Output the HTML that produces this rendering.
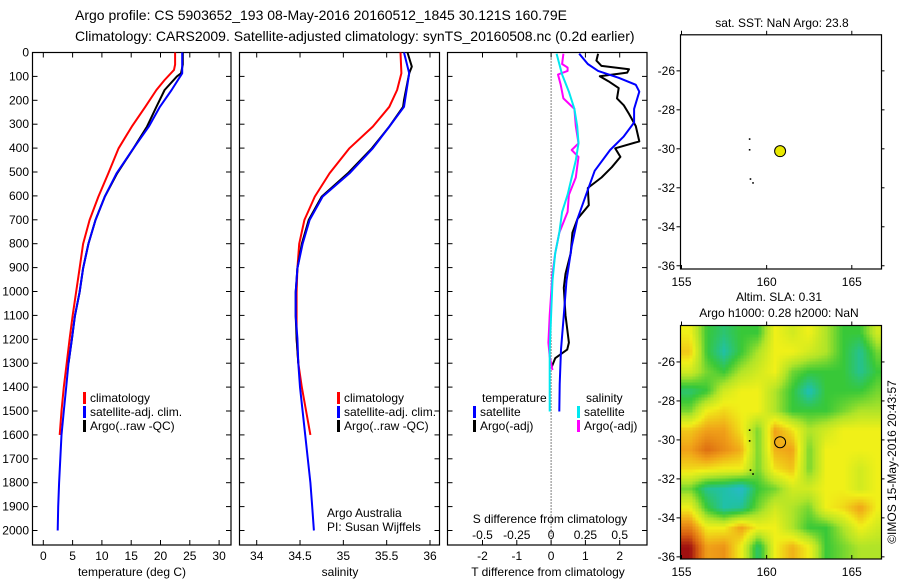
<!DOCTYPE html>
<html><head><meta charset="utf-8">
<style>
html,body{margin:0;padding:0;background:#fff;}
body{width:900px;height:580px;overflow:hidden;font-family:"Liberation Sans",sans-serif;}
svg text{font-family:"Liberation Sans",sans-serif;fill:#000;}
</style></head>
<body>
<svg id="chart" xmlns="http://www.w3.org/2000/svg" width="900" height="580" viewBox="0 0 900 580">
<text x="75" y="20" font-size="14">Argo profile: CS 5903652_193 08-May-2016 20160512_1845 30.121S 160.79E</text>
<text x="75" y="41" font-size="14">Climatology: CARS2009. Satellite-adjusted climatology: synTS_20160508.nc (0.2d earlier)</text>
<g id="g"></g>
</svg>
<script>
// ---- data ----
const depthTicks=[0,100,200,300,400,500,600,700,800,900,1000,1100,1200,1300,1400,1500,1600,1700,1800,1900,2000];
const tempTicks=[0,5,10,15,20,25,30];
const salTicks=[34,34.5,35,35.5,36];
const salTickLabels=["34","34.5","35","35.5","36"];
const tdTicks=[-2,-1,0,1,2];
const sdTicks=[-0.5,-0.25,0,0.25,0.5];
const sdTickLabels=["-0.5","-0.25","0","0.25","0.5"];

const climTdep=[0,50,73,115,157,227,310,401,506,603,701,801,903,1003,1102,1196,1300,1400,1500,1600];
const climT=[22.5,22.5,22.3,20.7,19.3,17.4,15.1,12.85,11.1,9.4,7.9,6.8,6.2,5.6,5.0,4.5,4.0,3.5,3.1,2.8];
const satTdep=[0,87,157,227,310,401,506,603,701,801,903,1003,1102,1196,1300,1400,1500,1600,1700,1800,1900,2000];
const satT=[23.7,23.7,21.9,19.9,18.0,15.4,12.5,10.5,8.9,7.7,6.8,6.2,5.4,4.9,4.3,3.9,3.5,3.1,2.9,2.7,2.55,2.45];
const argoTdep=[0,50,87,100,157,227,310,401,506,603,701,801,903,1003,1102,1196,1300];
const argoT=[23.8,23.8,23.5,22.8,20.7,19.3,17.7,15.4,12.6,10.5,8.9,7.7,6.8,6.2,5.4,4.9,4.3];

const climSdep=[0,87,157,227,310,401,506,603,701,801,903,1003,1102,1196,1300,1400,1500,1600];
const climS=[35.66,35.67,35.62,35.53,35.34,35.07,34.84,34.67,34.55,34.49,34.47,34.46,34.46,34.46,34.48,34.52,34.57,34.62];
const satSdep=[0,87,227,310,401,506,603,701,801,903,1003,1102,1196,1300,1400,1500,1600,1700,1800,1900,2000];
const satS=[35.70,35.76,35.70,35.53,35.34,35.07,34.76,34.61,34.53,34.47,34.45,34.45,34.47,34.48,34.50,34.53,34.56,34.59,34.62,34.64,34.66];
const argoSdep=[0,59,87,199,227,310,401,506,603,701,801,903,1003,1102,1196,1300];
const argoS=[35.74,35.79,35.76,35.70,35.69,35.53,35.33,35.05,34.75,34.60,34.52,34.47,34.45,34.45,34.46,34.48];

const satTdDep=[5,48,77,106,135,164,236,293,351,408,495,595,696,811,955,1099,1243,1387,1502];
const satTd=[0.82,1.07,1.37,1.97,2.47,2.57,2.42,2.42,2.12,1.72,1.27,1.02,0.77,0.60,0.45,0.37,0.29,0.25,0.24];
const argoTdDep=[5,34,56,70,84,99,120,149,192,221,257,308,372,401,437,480,523,567,639,696,754,840,926,984,1099,1214,1243,1279,1315];
const argoTd=[1.37,1.32,1.47,2.27,2.22,1.42,1.67,1.97,1.92,2.12,2.27,2.47,2.57,1.87,2.02,1.77,1.47,1.07,1.1,0.77,0.62,0.57,0.42,0.37,0.42,0.52,0.47,0.12,0.02];
const satSdDep=[5,92,164,236,308,380,451,523,595,667,754,840,955,1099,1243,1387,1502];
const satSd=[0.04,0.08,0.13,0.17,0.19,0.20,0.18,0.15,0.12,0.08,0.06,0.03,0.01,0.0,-0.01,-0.01,-0.01];
const argoSdDep=[5,48,63,77,92,135,192,236,308,380,408,437,523,595,667,754,840,926,1099,1214,1272,1329];
const argoSd=[0.09,0.08,0.12,0.12,0.05,0.07,0.09,0.17,0.18,0.20,0.15,0.20,0.18,0.13,0.12,0.06,0.03,0.01,-0.01,-0.02,-0.01,0.01];

const lonTicks=[155,160,165];
const latTicks=[-26,-28,-30,-32,-34,-36];
const gridLons=[155.5,156.5,157.5,158.5,159.5,160.5,161.5,162.5,163.5,164.5,165.5,166.5];
const gridLats=[-24.5,-25.5,-26.5,-27.5,-28.5,-29.5,-30.5,-31.5,-32.5,-33.5,-34.5,-35.5];
const sla=[
[4,2,1.5,2,2,4,3.5,4,3,2,2,3.5],
[4.5,2,1,2,3,4,4,3.5,3,2,1.2,2.5],
[3.5,2.5,2,3,3.5,4,2.5,2,2,2,1.2,2],
[1.5,2,3.5,4,4,3,2,0.8,2,2,2,2.5],
[2.5,4,4.3,4,4,3,2,2,2,2.5,3,3],
[4.5,5,5,4.2,2.5,5,4.2,3,3.5,4,4,4],
[5,5.8,5.3,4.8,2.5,4.8,5,2.5,4,4,4,4],
[4.3,4.2,4,4,2.5,4.2,4.6,2.5,4,4,3.5,4],
[2.5,1.2,1,0.5,2,2.5,3.5,3.5,4,4,3.5,4],
[4,2,1,1.2,2.5,3.5,3,2.5,4,4.3,5,4],
[5.5,4,4,5,4,4,3,2,2,3,4,3.5],
[7,5,5.2,4,1.5,4,4.8,4,2,2.5,3,3]];
const argoLon=[160.79], argoLat=[-30.121];
const islandLon=[159.0,159.0,159.05,159.2], islandLat=[-29.5,-30.05,-31.55,-31.75];

// ---- helpers ----
const NS="http://www.w3.org/2000/svg";
const G=document.getElementById('g');
function mk(tag,attrs,parent){const e=document.createElementNS(NS,tag);for(const k in attrs)e.setAttribute(k,attrs[k]);(parent||G).appendChild(e);return e;}
function txt(s,x,y,size,anchor,parent){const t=mk('text',{x:x,y:y,'font-size':size,'text-anchor':anchor||'start'},parent);t.textContent=s;return t;}

const Y0=52.5,Y1=545;
const yD=d=>Y0+0.239*d;
const xT=t=>43.3+5.86*t;
const xS=s=>256.7+86.65*(s-34);
const xTD=t=>551.1+34.3*t;
const xSD=s=>551.1+137.2*s;
const panels=[[32.5,231],[239.5,439.5],[447.5,647]];

panels.forEach((p,i)=>{
  const r=mk('rect',{x:p[0],y:Y0,width:p[1]-p[0],height:Y1-Y0,fill:'none',stroke:'#000','stroke-width':1.2});
  
  
  depthTicks.forEach(d=>{const y=yD(d);
    mk('line',{x1:p[0],x2:p[0]+5,y1:y,y2:y,stroke:'#000'});
    mk('line',{x1:p[1],x2:p[1]-5,y1:y,y2:y,stroke:'#000'});});
});
depthTicks.forEach(d=>{const t=txt(String(d),29,yD(d)+4,12,'end');
  
  });

function xticks(vals,labels,fx,labY,withTop){vals.forEach((v,i)=>{const x=fx(v);
  mk('line',{x1:x,x2:x,y1:Y1,y2:Y1-5,stroke:'#000'});
  if(withTop)mk('line',{x1:x,x2:x,y1:Y0,y2:Y0+5,stroke:'#000'});
  const t=txt(labels[i],x,labY,12,'middle');
  
  });}
xticks(tempTicks,tempTicks.map(String),xT,560,true);
xticks(salTicks,salTickLabels,xS,560,true);
xticks(tdTicks,tdTicks.map(String),xTD,560,true);
sdTicks.forEach((v,i)=>{const t=txt(sdTickLabels[i],xSD(v),539,12,'middle');
  
  });

let t;
t=txt('temperature (deg C)',132,576,12,'middle');
t=txt('salinity',340,576,12,'middle');
t=txt('T difference from climatology',548,576,12,'middle');
t=txt('S difference from climatology',550,523,12,'middle');

// dotted zero line
const zl=mk('line',{x1:xTD(0),x2:xTD(0),y1:Y0,y2:Y1,stroke:'#000','stroke-dasharray':'1,2'});



function line(deps,vals,fx,color,name,w){
  const pts=deps.map((d,i)=>fx(vals[i]).toFixed(1)+','+yD(d).toFixed(1)).join(' ');
  const el=mk('polyline',{points:pts,fill:'none',stroke:color,'stroke-width':w||2,'stroke-linejoin':'round'});
  
  
}
line(climTdep,climT,xT,'#ff0000','temperature-climatology-line');
line(argoTdep,argoT,xT,'#000000','temperature-argo-line');
line(satTdep,satT,xT,'#0000ff','temperature-satellite-line');
line(climSdep,climS,xS,'#ff0000','salinity-climatology-line');
line(argoSdep,argoS,xS,'#000000','salinity-argo-line');
line(satSdep,satS,xS,'#0000ff','salinity-satellite-line');
line(argoTdDep,argoTd,xTD,'#000000','t-diff-argo-line');
line(satTdDep,satTd,xTD,'#0000ff','t-diff-satellite-line');
line(argoSdDep,argoSd,xSD,'#ff00ff','s-diff-argo-line');
line(satSdDep,satSd,xSD,'#00e8f0','s-diff-satellite-line');

function legend(x,y,color,label,name){
  const m=mk('rect',{x:x,y:y-10,width:3,height:12,fill:color});
  
  
  const tt=txt(label,x+7,y,12,'start');
  
  
}
legend(83,402,'#ff0000','climatology','legend-t-climatology');
legend(83,416,'#0000ff','satellite-adj. clim.','legend-t-satellite');
legend(83,430,'#000','Argo(..raw -QC)','legend-t-argo');
legend(337,402,'#ff0000','climatology','legend-s-climatology');
legend(337,416,'#0000ff','satellite-adj. clim.','legend-s-satellite');
legend(337,430,'#000','Argo(..raw -QC)','legend-s-argo');
t=txt('temperature',482,402,12);
t=txt('salinity',586,402,12);
legend(473,416,'#0000ff','satellite','legend-td-satellite');
legend(473,430,'#000','Argo(-adj)','legend-td-argo');
legend(577,416,'#00e8f0','satellite','legend-sd-satellite');
legend(577,430,'#ff00ff','Argo(-adj)','legend-sd-argo');
t=txt('Argo Australia',327,517,12);
t=txt('PI: Susan Wijffels',327,531,12);

// ---- maps ----
const MX0=680.5,MX1=881.5;
const mxL=lon=>681.5+17.03*(lon-155);
function makeMap(top,bottom,latTop,name){
  const my=lat=>top+(latTop-lat)*19.49;
  return {my:my,top:top,bottom:bottom};
}
const m1=makeMap(34.8,269,-24.15,'sst');
const m2=makeMap(325.5,559,-24.13,'sla');

// heatmap
const stops=[[0,[48,176,232]],[1,[32,192,168]],[2,[56,200,56]],[3,[176,228,40]],[4,[240,240,24]],[5,[240,160,24]],[6,[216,96,16]],[7,[160,16,16]]];
function col(v){v=Math.max(0,Math.min(7,v));const i=Math.min(6,Math.floor(v));const f=v-i;const a=stops[i][1],b=stops[i+1][1];
  return 'rgb('+a.map((c,k)=>Math.round(c+(b[k]-c)*f)).join(',')+')';}
function sample(lon,lat){
  let fi=(lon-gridLons[0])/(gridLons[1]-gridLons[0]);let fj=(lat-gridLats[0])/(gridLats[1]-gridLats[0]);
  fi=Math.max(0,Math.min(gridLons.length-1.001,fi));fj=Math.max(0,Math.min(gridLats.length-1.001,fj));
  const i=Math.floor(fi),j=Math.floor(fj),a=fi-i,b=fj-j;
  return sla[j][i]*(1-a)*(1-b)+sla[j][i+1]*a*(1-b)+sla[j+1][i]*(1-a)*b+sla[j+1][i+1]*a*b;
}
const hm=mk('g',{});


const step=3;
for(let px=MX0;px<MX1;px+=step){for(let py=m2.top;py<m2.bottom;py+=step){
  const lon=155+(px+step/2-681.5)/17.03;const lat=-24.13-(py+step/2-m2.top)/19.49;
  mk('rect',{x:px,y:py,width:Math.min(step,MX1-px)+0.3,height:Math.min(step,m2.bottom-py)+0.3,fill:col(sample(lon,lat))},hm);
}}

[m1,m2].forEach((m,k)=>{
  const fr=mk('rect',{x:MX0,y:m.top,width:MX1-MX0,height:m.bottom-m.top,fill:'none',stroke:'#000','stroke-width':1.2});
  
  
  lonTicks.forEach(lon=>{const x=mxL(lon);
    mk('line',{x1:x,x2:x,y1:m.bottom,y2:m.bottom-4,stroke:'#000'});
    mk('line',{x1:x,x2:x,y1:m.top,y2:m.top-4,stroke:'#000'});
    const tl=txt(String(lon),x,m.bottom+17,12,'middle');
    
    });
  latTicks.forEach(lat=>{const y=m.my(lat);
    mk('line',{x1:MX0,x2:MX0-4,y1:y,y2:y,stroke:'#000'});
    mk('line',{x1:MX1,x2:MX1+3,y1:y,y2:y,stroke:'#000'});
    const tl=txt(String(lat),675,y+4,12,'end');
    
    });
  islandLon.forEach((lon,i)=>{const d=mk('rect',{x:mxL(lon)-0.8,y:m.my(islandLat[i])-0.8,width:1.6,height:1.6,fill:'#000'});
    
    });
});
argoLon.forEach((lon,i)=>{
  const c1=mk('circle',{cx:mxL(lon),cy:m1.my(argoLat[i]),r:5.5,fill:'#e8e800',stroke:'#000','stroke-width':1});
  
  
  const c2=mk('circle',{cx:mxL(lon),cy:m2.my(argoLat[i]),r:5.5,fill:'none',stroke:'#000','stroke-width':1});
  
  
});
t=txt('sat. SST: NaN Argo: 23.8',782,27,12,'middle');
t=txt('Altim. SLA: 0.31',779,301,12,'middle');
t=txt('Argo h1000: 0.28 h2000: NaN',779,317,12,'middle');
t=txt('©IMOS 15-May-2016 20:43:57',0,0,12,'middle');
t.setAttribute('transform','translate(896,462) rotate(-90)');


</script>
</body></html>
